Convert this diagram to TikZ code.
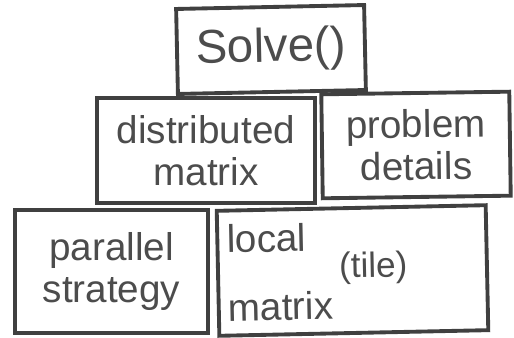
\documentclass[tikz,border=0pt]{standalone}
\usepackage{fontspec}
\setmainfont{Liberation Sans}
\usetikzlibrary{positioning}

\tikzset{
  box/.style={draw=black!75,line width=2.2pt,inner sep=2pt,align=center,
    font=\fontsize{22}{24}\selectfont,text=black!70},
}

\begin{document}
\begin{tikzpicture}
          \useasboundingbox (0,0) rectangle (10.28,6.76);
          \node[box,minimum width=3.76cm,minimum height=1.70cm,rotate=1.2,
            font=\fontsize{27}{30}\selectfont] (Solve) at (5.42,5.77) {Solve()};
          \node[box,minimum width=4.36cm,minimum height=2.10cm] (Dist) at (4.12,3.75) {distributed\\matrix};
          \node[box,minimum width=3.76cm,minimum height=2.08cm,rotate=0.8] (Prob) at (8.32,3.86) {problem\\details};
          \node[box,minimum width=3.86cm,minimum height=2.46cm] (Par) at (2.23,1.33) {parallel\\strategy};
          \node[box,minimum width=5.38cm,minimum height=2.50cm,rotate=1.2,align=left,
            text width=5.0cm,font=\fontsize{22}{34}\selectfont] (Local) at (7.05,1.35)
            {local\\matrix\,\raisebox{2.0ex}{\fontsize{20}{20}\selectfont(tile)}};
        \end{tikzpicture}
\end{document}
